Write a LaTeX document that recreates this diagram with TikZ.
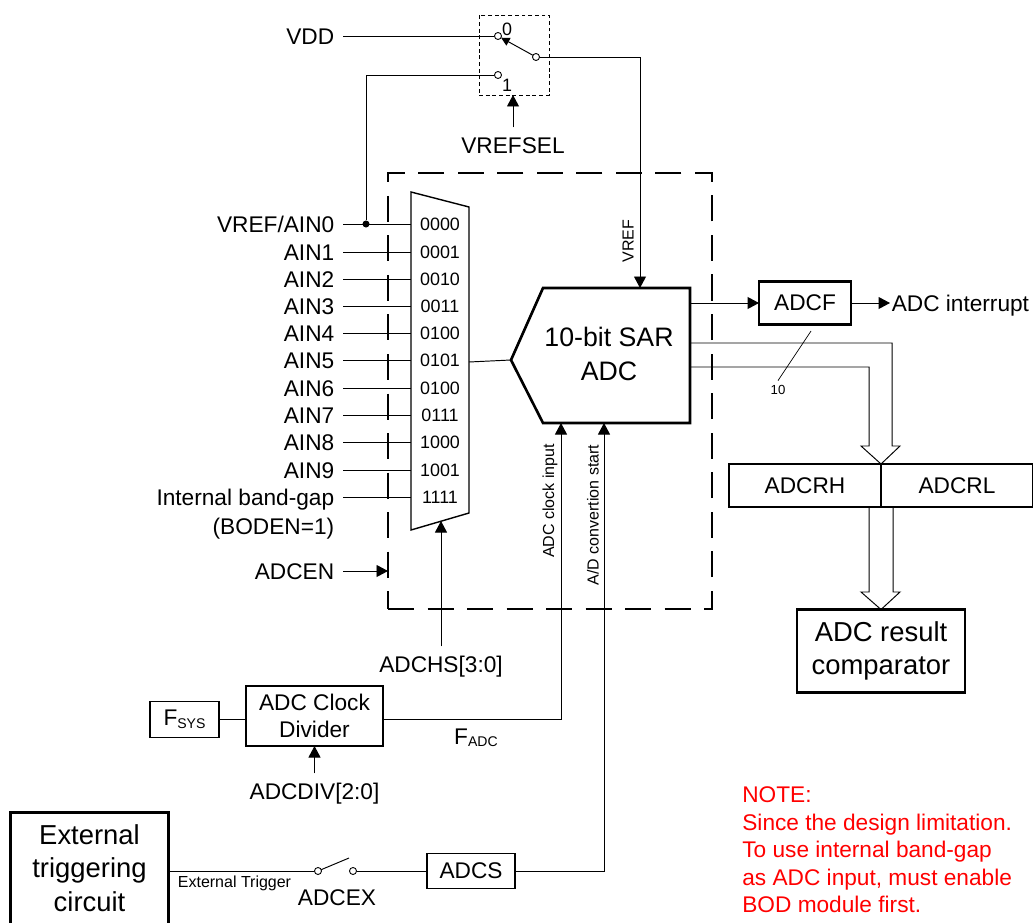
\documentclass[tikz,border=0pt]{standalone}
\usepackage{fontspec}
\setmainfont{Liberation Sans}
\usetikzlibrary{arrows.meta,calc}
\newcommand{\subtxt}[1]{\raisebox{-1.5pt}{\fontsize{8}{8}\selectfont #1}}
\tikzset{
  box/.style={draw=black, align=center, inner sep=0pt, outer sep=0pt, line width=0.9pt, font=\fontsize{12.9}{15.4}\selectfont},
  bigbox/.style={draw=black, align=center, inner sep=0pt, outer sep=0pt, line width=1.3pt, font=\fontsize{15.6}{19}\selectfont},
  lbl/.style={font=\fontsize{12.9}{15.4}\selectfont, inner xsep=5pt, inner ysep=5.5pt, outer sep=0pt, text height=9.2pt, text depth=0pt},
  codelbl/.style={font=\fontsize{10.2}{12}\selectfont, inner sep=0pt},
  sidelbl/.style={font=\fontsize{9.1}{11}\selectfont, inner sep=0pt, rotate=90},
  wire/.style={line width=0.55pt},
  arrow/.style={-{Triangle[length=2.3mm,width=2.4mm]}, line width=0.55pt},
  thinarrow/.style={-{Triangle[length=1.7mm,width=1.7mm]}, line width=0.55pt},
  terminal/.style={circle, draw=black, fill=white, line width=0.5pt, minimum size=4pt, inner sep=0pt, outer sep=0pt},
  dot/.style={circle, fill=black, minimum size=4pt, inner sep=0pt}
}
\begin{document}
\begin{tikzpicture}[x=0.02cm,y=-0.02cm]
\useasboundingbox (0,0) rectangle (1033,922);
% reference select switch
\node[draw=black, dash pattern=on 2.2pt off 1.6pt, line width=0.5pt, minimum width=1.4cm, minimum height=1.6cm, inner sep=0pt, outer sep=0pt] (swbox) at (514,55) {};
\node[lbl, anchor=east] (vdd) at (343,36) {VDD};
\node[terminal] (swa) at (498,36) {};
\node[terminal] (swb) at (498,75) {};
\node[terminal] (swc) at (536,57) {};
\node[codelbl] (swzero) at (507,29) {0};
\node[codelbl] (swone) at (507,85) {1};
\node[lbl] (vrefsel) at (513,145) {VREFSEL};
\draw[wire] (vdd.east) -- (swa);
\draw[thinarrow] (swc) -- (swa);
\draw[arrow] (vrefsel.north) -- (vrefsel.north |- swbox.south);
% adc boundary
\draw[dash pattern=on 14.8pt off 7.7pt, line width=1pt] (388,609) -- (712,609) -- (712,173) -- (388,173) -- cycle;
% input mux
\coordinate (muxl) at (411,0);
\coordinate (muxout) at (469,362);
\coordinate (muxbot) at (441,521);
\draw[line width=0.8pt] (411,192) -- (469,207) -- (469,513) -- (411,530) -- cycle;
\foreach \i/\y/\pin/\code in {0/224/{VREF/AIN0}/0000,1/252/AIN1/0001,2/279/AIN2/0010,3/306/AIN3/0011,4/333/AIN4/0100,5/360/AIN5/0101,6/388/AIN6/0100,7/415/AIN7/0111,8/442/AIN8/1000,9/470/AIN9/1001,10/497/Internal band-gap/1111}{
  \node[lbl, anchor=east] (ain\i) at (343,\y) {\pin};
  \node[codelbl] (code\i) at (440,\y) {\code};
  \draw[wire] (ain\i.east) -- (ain\i.east -| muxl);
}
\node[lbl, anchor=east] (boden) at (343,526) {(BODEN=1)};
\node[dot] (vrefdot) at (366,224) {};
\draw[wire] (swb) -| (vrefdot);
\node[lbl, anchor=east] (adcen) at (343,571) {ADCEN};
\coordinate (enin) at (388,571);
\draw[arrow] (adcen.east) -- (enin);
\node[lbl] (adchs) at (441,664) {ADCHS[3:0]};
\draw[arrow] (adchs.north) -- (muxbot);
% sar adc
\draw[line width=1.5pt, line join=miter] (543,288) -- (690,288) -- (690,423) -- (543,423) -- (511,360) -- cycle;
\node[bigbox, draw=none, font=\fontsize{15.2}{19}\selectfont] (sar) at (609,354) {10-bit SAR\\ADC};
\coordinate (sartip) at (511,360);
\coordinate (vrefin) at (640,288);
\coordinate (clkin) at (561,423);
\coordinate (startin) at (604,423);
\coordinate (flagout) at (691,303);
\draw[wire] (muxout) -- (sartip);
\draw[arrow] (swc) -| (vrefin);
\node[sidelbl] (vreflbl) at (628,241) {VREF};
\node[sidelbl] (clklbl) at (550,501) {ADC clock input};
\node[sidelbl] (startlbl) at (593,515) {A/D convertion start};
% flag and result registers
\node[box, line width=1.3pt, minimum width=1.84cm, minimum height=0.86cm] (adcf) at (805,303) {ADCF};
\node[lbl, anchor=west, inner xsep=1pt] (adcint) at (890,303) {ADC interrupt};
\draw[arrow] (flagout) -- (adcf.west);
\draw[arrow] (adcf.east) -- (adcint.west);
\node[box, line width=1.4pt, minimum width=3.04cm, minimum height=0.86cm] (adcrh) at (805,485.5) {ADCRH};
\node[box, line width=1.4pt, minimum width=3.04cm, minimum height=0.86cm] (adcrl) at (957,485.5) {ADCRL};
\node[bigbox, minimum width=3.36cm, minimum height=1.66cm] (compar) at (881,651) {ADC result\\comparator};
% hollow buses
\coordinate (busa) at (691,343);
\coordinate (busb) at (691,367);
\coordinate (bushead) at (881,464);
\draw[line width=0.55pt] (busa) -| (892,446) -- (900,446) -- (bushead) -- (861,446) -- (869,446) |- (busb);
\draw[line width=0.55pt] (869,507) -- (869,592) -- (861,592) -- (compar.north) -- (900,592) -- (893,592) -- (893,507);
\node[font=\fontsize{7.5}{9}\selectfont, inner sep=2.5pt] (buswidth) at (778,390) {10};
\coordinate (slashtop) at (811,331);
\draw[line width=0.4pt] (slashtop) -- (buswidth.north);
% clock path
\node[box, line width=0.8pt, minimum width=1.38cm, minimum height=0.72cm] (fsys) at (184.5,719.5) {F\subtxt{SYS}};
\node[box, minimum width=2.74cm, minimum height=1.2cm] (clkdiv) at (314.5,716) {ADC Clock\\Divider};
\node[lbl] (fadc) at (476,736) {F\subtxt{ADC}};
\node[lbl] (adcdiv) at (314.5,791) {ADCDIV[2:0]};
\draw[wire] (fsys.east) -- (fsys.east -| clkdiv.west);
\draw[arrow] (clkdiv.east |- fsys.east) -| (clkin);
\draw[arrow] (adcdiv.north) -- (clkdiv.south);
% external trigger
\node[bigbox, line width=1.7pt, minimum width=3.18cm, minimum height=2.24cm] (exttrig) at (89.5,868) {External\\triggering\\circuit};
\node[terminal] (swl) at (318,871) {};
\node[terminal] (swr) at (353,871) {};
\coordinate (armend) at (349,858);
\node[box, line width=0.8pt, minimum width=1.76cm, minimum height=0.7cm] (adcs) at (471,871) {ADCS};
\node[font=\fontsize{9.1}{12}\selectfont, inner sep=0pt] (trigtxt) at (234.5,883) {External Trigger};
\node[lbl] (adcex) at (337,897) {ADCEX};
\draw[wire] (exttrig.east |- swl) -- (swl);
\draw[wire] (swl) -- (armend);
\draw[wire] (swr) -- (adcs.west);
\draw[arrow] (adcs.east) -| (startin);
% note
\node[anchor=west, align=left, inner sep=0pt, text=red, font=\fontsize{12.9}{15.65}\selectfont] (note) at (742,850) {NOTE:\\Since the design limitation.\\To use internal band-gap\\as ADC input, must enable\\BOD module first.};
\end{tikzpicture}
\end{document}
